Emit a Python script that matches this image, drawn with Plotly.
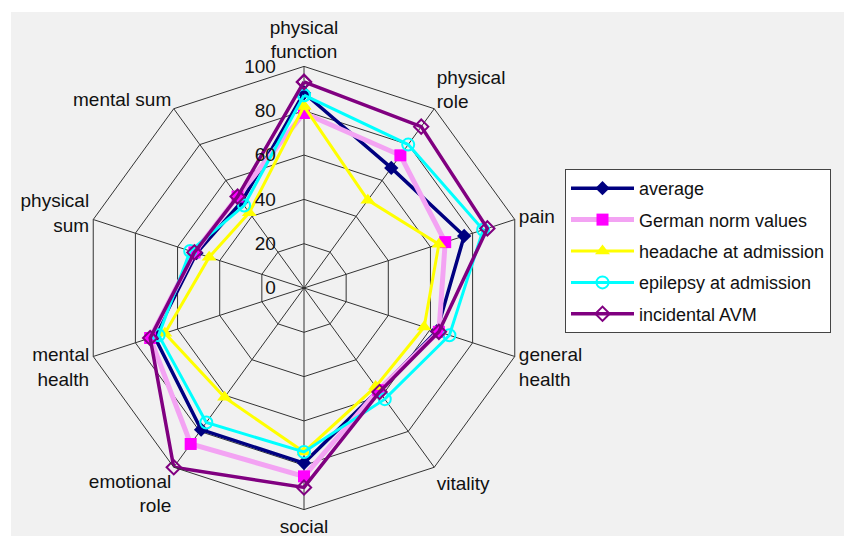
import plotly.graph_objects as go

categories = ["physical<br>function", "physical<br>role", "pain", "general<br>health",
              "vitality", "social<br>function", "emotional<br>role", "mental<br>health",
              "physical<br>sum", "mental sum"]

average = [88, 67, 76, 63, 57, 79, 79, 71, 51, 48]
german_norm = [79, 74, 67, 64, 57, 85, 87, 73, 52, 51]
headache = [82, 49, 64, 57, 55, 74, 61, 66, 45, 42]
epilepsy = [87, 80, 85, 69, 62, 74, 75, 69, 54, 46]
incidental = [93, 90, 87, 64, 58, 90, 100, 73, 52, 51]

radial_ticks = [0, 20, 40, 60, 80, 100]

def closed(v):
    return list(v) + [v[0]]

theta = closed(categories)

fig = go.Figure()
fig.add_trace(go.Scatterpolar(
    r=closed(average), theta=theta, name="average", mode="lines+markers", legendgroup="a",
    line=dict(color="#000080", width=3.5),
    marker=dict(symbol="diamond", size=11, color="#000080")))
fig.add_trace(go.Scatterpolar(
    r=closed(german_norm), theta=theta, name="German norm values", mode="lines+markers", legendgroup="b",
    line=dict(color="#f3a3f3", width=5),
    marker=dict(symbol="square", size=12, color="#ff00ff")))
fig.add_trace(go.Scatterpolar(
    r=closed(headache), theta=theta, name="headache at admission", mode="lines+markers", legendgroup="c",
    line=dict(color="#ffff00", width=3),
    marker=dict(symbol="triangle-up", size=13, color="#ffff00")))
fig.add_trace(go.Scatterpolar(
    r=closed(epilepsy), theta=theta, name="epilepsy at admission", mode="lines+markers", legendgroup="d",
    line=dict(color="#00ffff", width=3),
    marker=dict(symbol="circle-open", size=12, color="#00ffff", line=dict(width=2))))
fig.add_trace(go.Scatterpolar(
    r=closed(incidental), theta=theta, name="incidental AVM", mode="lines+markers", legendgroup="e",
    line=dict(color="#800080", width=3.5),
    marker=dict(symbol="diamond-open", size=11, color="#800080", line=dict(width=2))))

font_family = "Liberation Sans, Arial, sans-serif"

fig.update_layout(
    width=844, height=536,
    margin=dict(l=0, r=0, t=0, b=0),
    paper_bgcolor="white",
    font=dict(family=font_family, size=19, color="#111111"),
    shapes=[dict(type="rect", xref="paper", yref="paper", x0=11/844, x1=1, y0=0, y1=1-12/536,
                 fillcolor="#f1f1f1", line=dict(width=0), layer="below")],
    polar=dict(
        domain=dict(x=[82.4/844, 525.6/844], y=[26.4/536, 469.6/536]),
        bgcolor="rgba(0,0,0,0)",
        gridshape="linear",
        angularaxis=dict(direction="clockwise", rotation=90, type="category",
                         categoryarray=categories,
                         linecolor="#333333", linewidth=1,
                         gridcolor="#333333", gridwidth=1,
                         ticks="", tickfont=dict(size=19)),
        radialaxis=dict(range=[0, 100], tickvals=radial_ticks, angle=90,
                        side="counterclockwise", showline=False,
                        gridcolor="#333333", gridwidth=1,
                        ticks="outside", ticklen=21, tickcolor="rgba(0,0,0,0)",
                        tickfont=dict(size=19), tickangle=90),
    ),
    legend=dict(x=565/844, y=1-169/536, xanchor="left", yanchor="top",
                bgcolor="white", bordercolor="#444444", borderwidth=1,
                font=dict(size=18), traceorder="grouped", tracegroupgap=5,
                itemwidth=63),
)

fig.write_html("out.html")
